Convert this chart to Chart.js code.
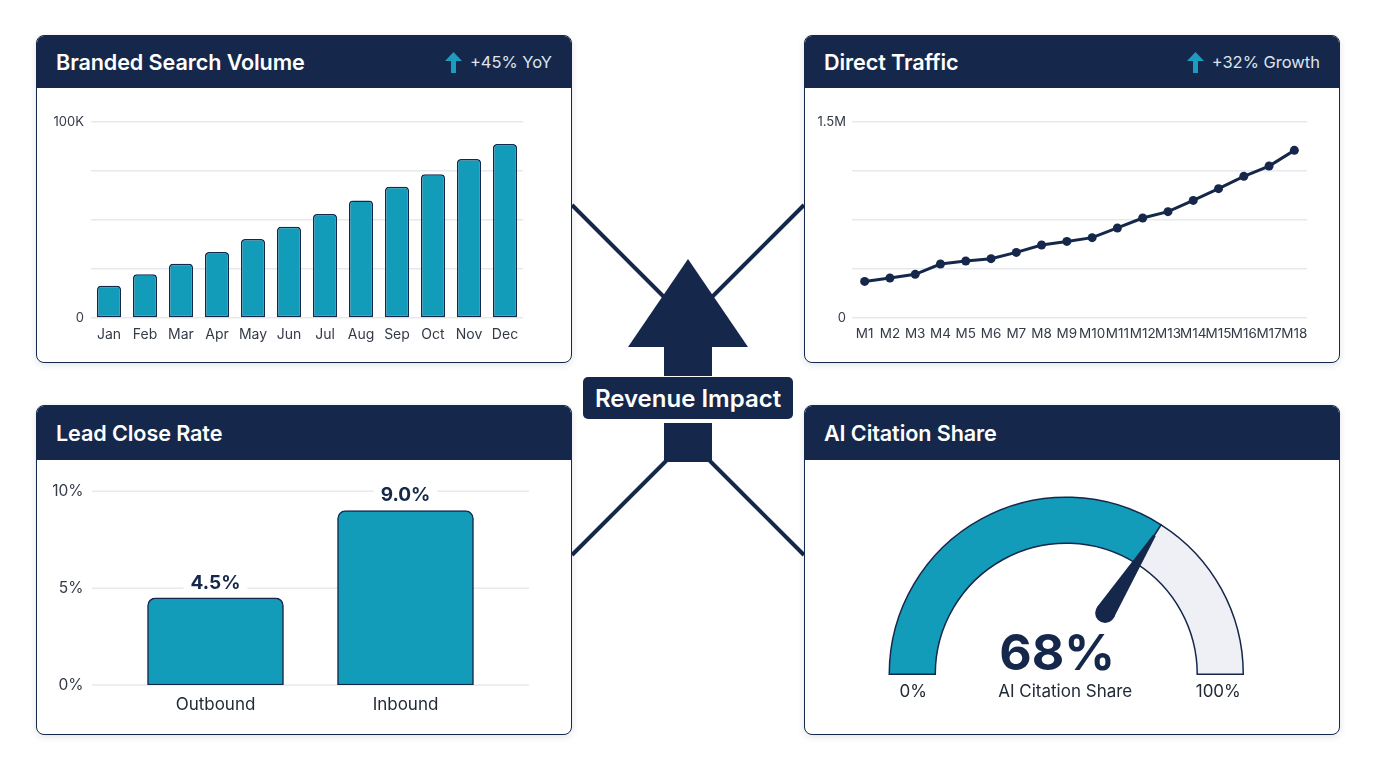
<!DOCTYPE html>
<html lang="en">
<head>
    <meta charset="UTF-8">
    <title>Revenue Impact Dashboard</title>
    <script src="https://cdn.jsdelivr.net/npm/chart.js"></script>
    <style>
        body {
            margin: 0;
            width: 1376px;
            height: 768px;
            position: relative;
            background: #ffffff;
            font-family: Inter, "Noto Sans", sans-serif;
            overflow: hidden;
        }

        .connectors {
            position: absolute;
            left: 0;
            top: 0;
            z-index: 0;
        }

        .panel {
            position: absolute;
            width: 536px;
            background: #fff;
            border: 1.75px solid #15284b;
            border-radius: 8px;
            box-sizing: border-box;
            box-shadow: 0 2px 7px rgba(20, 37, 74, 0.12);
            overflow: hidden;
            z-index: 1;
        }

        .panel-header {
            height: 52px;
            background: #15284b;
            color: #fff;
            display: flex;
            align-items: center;
            justify-content: space-between;
            padding: 0 19px 0 19px;
        }

        .panel-header h2 {
            margin: 0;
            font-size: 21.6px;
            font-weight: 600;
            letter-spacing: -0.1px;
        }

        .badge {
            display: flex;
            align-items: center;
            font-size: 16.5px;
            color: #dde4ee;
        }

        .badge svg {
            margin-right: 8px;
        }

        canvas {
            position: absolute;
            z-index: 2;
        }

        .impact {
            position: absolute;
            left: 583px;
            top: 377px;
            width: 210px;
            height: 42px;
            background: #15284b;
            color: #fff;
            border-radius: 5px;
            font-size: 24px;
            font-weight: 600;
            display: flex;
            align-items: center;
            justify-content: center;
            z-index: 3;
        }
    </style>
</head>
<body>
    <svg class="connectors" width="1376" height="768">
        <g stroke="#15284b" stroke-width="4">
            <line x1="572" y1="205" x2="688" y2="321"/>
            <line x1="804" y1="205" x2="688" y2="321"/>
            <line x1="572" y1="555" x2="688" y2="439"/>
            <line x1="804" y1="555" x2="688" y2="439"/>
        </g>
        <g fill="#15284b">
            <polygon points="688,259 748,347 628,347"/>
            <rect x="664" y="346" width="48" height="30"/>
            <rect x="664" y="423" width="48" height="39"/>
        </g>
    </svg>

    <div class="impact">Revenue Impact</div>

    <div class="panel" style="left:36px; top:35px; height:328px;">
        <div class="panel-header">
            <h2>Branded Search Volume</h2>
            <div class="badge">
                <svg width="17" height="21" viewBox="0 0 17 21"><polygon points="8.5,0 17,9 11,9 11,21 6,21 6,9 0,9" fill="#1b9cc0"/></svg>
                +45% YoY
            </div>
        </div>
    </div>

    <div class="panel" style="left:804px; top:35px; height:328px;">
        <div class="panel-header">
            <h2>Direct Traffic</h2>
            <div class="badge">
                <svg width="17" height="21" viewBox="0 0 17 21"><polygon points="8.5,0 17,9 11,9 11,21 6,21 6,9 0,9" fill="#1b9cc0"/></svg>
                +32% Growth
            </div>
        </div>
    </div>

    <div class="panel" style="left:36px; top:405px; height:330px;">
        <div class="panel-header" style="height:54px;">
            <h2>Lead Close Rate</h2>
        </div>
    </div>

    <div class="panel" style="left:804px; top:405px; height:330px;">
        <div class="panel-header" style="height:54px;">
            <h2>AI Citation Share</h2>
        </div>
    </div>

    <canvas id="searchChart" width="528" height="266" style="left:40px; top:92px;"></canvas>
    <canvas id="trafficChart" width="528" height="266" style="left:808px; top:92px;"></canvas>
    <canvas id="closeChart" width="528" height="288" style="left:40px; top:445px;"></canvas>
    <canvas id="gaugeChart" width="532" height="272" style="left:806px; top:461px;"></canvas>

    <script>
        // Branded search volume, monthly
        const months = ['Jan', 'Feb', 'Mar', 'Apr', 'May', 'Jun', 'Jul', 'Aug', 'Sep', 'Oct', 'Nov', 'Dec'];
        const searchVolume = [16500, 22300, 27700, 33700, 40300, 46600, 53100, 60000, 67000, 73300, 81100, 88800];

        // Direct traffic over 18 months
        const trafficMonths = ['M1', 'M2', 'M3', 'M4', 'M5', 'M6', 'M7', 'M8', 'M9', 'M10', 'M11', 'M12', 'M13', 'M14', 'M15', 'M16', 'M17', 'M18'];
        const directTraffic = [280000, 306000, 334000, 413000, 436000, 454000, 502000, 559000, 586000, 615000, 689000, 765000, 814000, 900000, 990000, 1084000, 1163000, 1283000];

        // Lead close rate
        const leadSources = ['Outbound', 'Inbound'];
        const closeRates = [4.5, 9.0];

        // AI citation share (gauge)
        const citationShare = 68;

        const NAVY = '#15284b';
        const TEAL = '#139cb9';
        const GRID = '#e7e9ee';
        const TICK = '#333b48';
        const FONT = 'Inter, "Noto Sans", sans-serif';

        Chart.defaults.font.family = FONT;
        Chart.defaults.color = TICK;
        Chart.defaults.animation = false;

        const noLegend = {
            legend: { display: false },
            tooltip: { enabled: false }
        };

        // Branded Search Volume bars
        new Chart(document.getElementById('searchChart'), {
            type: 'bar',
            data: {
                labels: months,
                datasets: [{
                    data: searchVolume,
                    backgroundColor: TEAL,
                    borderColor: NAVY,
                    borderWidth: 1.5,
                    borderSkipped: false,
                    borderRadius: { topLeft: 4, topRight: 4, bottomLeft: 0, bottomRight: 0 },
                    barPercentage: 0.67,
                    categoryPercentage: 1
                }]
            },
            options: {
                responsive: false,
                layout: { padding: { top: 30, right: 45, left: 0, bottom: 0 } },
                plugins: noLegend,
                scales: {
                    x: {
                        grid: { display: false, drawTicks: false },
                        border: { display: false },
                        ticks: { font: { size: 14 }, padding: 8, maxRotation: 0 },
                        afterFit: s => { s.height = 40; }
                    },
                    y: {
                        min: 0,
                        max: 100000,
                        grid: { color: GRID, lineWidth: 1.5, drawTicks: false },
                        border: { display: false },
                        ticks: {
                            stepSize: 25000,
                            padding: 7,
                            font: { size: 13 },
                            callback: v => v === 0 ? '0' : (v === 100000 ? '100K' : '')
                        },
                        afterFit: s => { s.width = 51; }
                    }
                }
            }
        });

        // Direct Traffic line
        new Chart(document.getElementById('trafficChart'), {
            type: 'line',
            data: {
                labels: trafficMonths,
                datasets: [{
                    data: directTraffic,
                    borderColor: NAVY,
                    backgroundColor: NAVY,
                    borderWidth: 3,
                    pointRadius: 4.5,
                    pointBackgroundColor: NAVY,
                    pointBorderWidth: 0,
                    tension: 0
                }]
            },
            options: {
                responsive: false,
                layout: { padding: { top: 30, right: 29, left: 0, bottom: 0 } },
                plugins: noLegend,
                scales: {
                    x: {
                        offset: true,
                        grid: { display: false, drawTicks: false },
                        border: { display: false },
                        ticks: { font: { size: 13.5 }, padding: 8, maxRotation: 0, autoSkip: false },
                        afterFit: s => { s.height = 40; }
                    },
                    y: {
                        min: 0,
                        max: 1500000,
                        grid: { color: GRID, lineWidth: 1.5, drawTicks: false },
                        border: { display: false },
                        ticks: {
                            stepSize: 375000,
                            padding: 6,
                            font: { size: 13 },
                            callback: v => v === 0 ? '0' : (v === 1500000 ? '1.5M' : '')
                        },
                        afterFit: s => { s.width = 44; }
                    }
                }
            }
        });

        // gridlines that run wider than the category area
        const wideGrid = {
            id: 'wideGrid',
            beforeDatasetsDraw(chart, args, opts) {
                const { ctx, chartArea } = chart;
                const y = chart.scales.y;
                ctx.save();
                ctx.strokeStyle = GRID;
                ctx.lineWidth = 1.5;
                y.ticks.forEach(t => {
                    const py = y.getPixelForValue(t.value);
                    ctx.beginPath();
                    ctx.moveTo(chartArea.left - opts.extend, py);
                    ctx.lineTo(chartArea.right + opts.extend, py);
                    ctx.stroke();
                });
                ctx.restore();
            }
        };

        // bold value labels on a white chip above each bar
        const barValues = {
            id: 'barValues',
            afterDatasetsDraw(chart) {
                const { ctx } = chart;
                const meta = chart.getDatasetMeta(0);
                ctx.save();
                ctx.font = '700 19px ' + FONT;
                ctx.textAlign = 'center';
                ctx.textBaseline = 'middle';
                meta.data.forEach((bar, i) => {
                    const txt = closeRates[i].toFixed(1) + '%';
                    const w = ctx.measureText(txt).width + 14;
                    const cy = bar.y - 16;
                    ctx.fillStyle = '#fff';
                    ctx.fillRect(bar.x - w / 2, cy - 11, w, 22);
                    ctx.fillStyle = NAVY;
                    ctx.fillText(txt, bar.x, cy + 1);
                });
                ctx.restore();
            }
        };

        // Lead Close Rate bars
        new Chart(document.getElementById('closeChart'), {
            type: 'bar',
            data: {
                labels: leadSources,
                datasets: [{
                    data: closeRates,
                    backgroundColor: TEAL,
                    borderColor: NAVY,
                    borderWidth: 1.5,
                    borderSkipped: false,
                    borderRadius: { topLeft: 8, topRight: 8, bottomLeft: 0, bottomRight: 0 },
                    barThickness: 136
                }]
            },
            options: {
                responsive: false,
                layout: { padding: { top: 0, right: 67.5, left: 0, bottom: 0 } },
                plugins: { ...noLegend, wideGrid: { extend: 28.5 } },
                scales: {
                    x: {
                        grid: { display: false, drawTicks: false },
                        border: { display: false },
                        ticks: { font: { size: 17 }, padding: 10, color: '#222a36' },
                        afterFit: s => { s.height = 48; }
                    },
                    y: {
                        min: 0,
                        max: 10,
                        grid: { display: false, drawTicks: false },
                        border: { display: false },
                        ticks: {
                            stepSize: 5,
                            padding: 37,
                            font: { size: 15.5 },
                            callback: v => v + '%'
                        },
                        afterFit: s => { s.width = 80.5; }
                    }
                }
            },
            plugins: [wideGrid, barValues]
        });

        // needle and centre text for the gauge
        const gaugeExtras = {
            id: 'gaugeExtras',
            afterDatasetsDraw(chart) {
                const { ctx } = chart;
                const arc = chart.getDatasetMeta(0).data[0];
                const cx = arc.x, cy = arc.y;
                const outer = arc.outerRadius, inner = arc.innerRadius;
                const ang = Math.PI + Math.PI * citationShare / 100;
                const ux = Math.cos(ang), uy = Math.sin(ang);
                const px = -uy, py = ux;
                const r0 = outer * 0.41, r1 = outer * 0.93;
                const bx = cx + ux * r0, by = cy + uy * r0;
                const tx = cx + ux * r1, ty = cy + uy * r1;

                ctx.save();
                ctx.fillStyle = NAVY;
                ctx.beginPath();
                ctx.moveTo(bx + px * 10, by + py * 10);
                ctx.lineTo(tx + px * 1.5, ty + py * 1.5);
                ctx.lineTo(tx - px * 1.5, ty - py * 1.5);
                ctx.lineTo(bx - px * 10, by - py * 10);
                ctx.closePath();
                ctx.fill();
                ctx.beginPath();
                ctx.arc(bx, by, 10, 0, Math.PI * 2);
                ctx.fill();

                ctx.textAlign = 'center';
                ctx.textBaseline = 'middle';
                ctx.font = '700 50px ' + FONT;
                ctx.fillText(citationShare + '%', cx - 9, cy - 19);

                ctx.fillStyle = '#222a36';
                ctx.font = '400 17px ' + FONT;
                ctx.fillText('AI Citation Share', cx - 1, cy + 18);
                const mid = (outer + inner) / 2;
                ctx.fillText('0%', cx - mid + 1, cy + 18);
                ctx.fillText('100%', cx + mid - 2, cy + 18);
                ctx.restore();
            }
        };

        // AI Citation Share gauge (half doughnut)
        new Chart(document.getElementById('gaugeChart'), {
            type: 'doughnut',
            data: {
                labels: ['Cited', 'Other'],
                datasets: [{
                    data: [citationShare, 100 - citationShare],
                    backgroundColor: [TEAL, '#eff0f5'],
                    borderColor: NAVY,
                    borderWidth: 1.5,
                    borderJoinStyle: 'miter'
                }]
            },
            options: {
                responsive: false,
                rotation: -90,
                circumference: 180,
                cutout: '74%',
                layout: { padding: { top: 35.5, right: 94, left: 82.5, bottom: 58 } },
                plugins: noLegend
            },
            plugins: [gaugeExtras]
        });
    </script>
</body>
</html>
